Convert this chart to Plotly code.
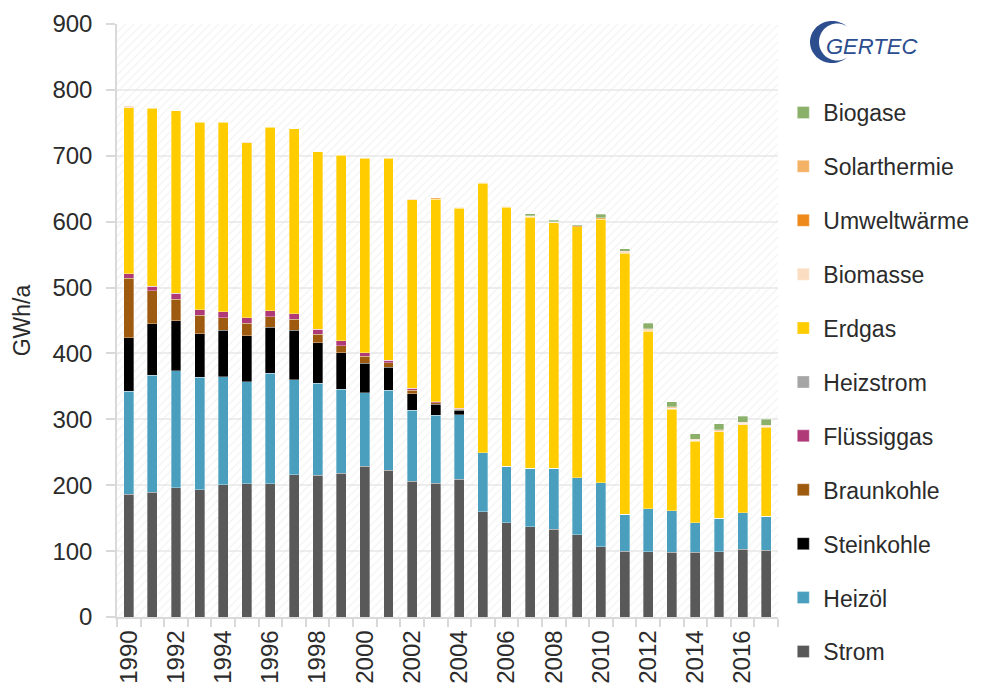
import numpy as np
import plotly.graph_objects as go

years = list(range(1990, 2018))

strom = [186, 189, 196, 193, 201, 202, 202, 216, 215, 218, 229, 223, 206, 203, 209, 160, 143, 137, 133, 125, 107, 100, 99, 98, 98, 99, 103, 101]
heizoel = [157, 178, 178, 171, 164, 155, 168, 144, 140, 128, 111, 121, 108, 103, 98, 89, 86, 89, 93, 86, 97, 56, 65, 63, 45, 51, 55, 52]
steinkohle = [81, 78, 76, 66, 70, 70, 70, 75, 61, 55, 45, 35, 25, 17, 7, 0, 0, 0, 0, 0, 0, 0, 0, 0, 0, 0, 0, 0]
braunkohle = [90, 50, 32, 28, 19, 19, 16, 17, 13, 11, 11, 7, 5, 2, 1, 0, 0, 0, 0, 0, 0, 0, 0, 0, 0, 0, 0, 0]
fluessiggas = [7, 7, 9, 8, 9, 8, 9, 8, 8, 7, 5, 4, 3, 2, 2, 0, 0, 0, 0, 0, 0, 0, 0, 0, 0, 0, 0, 0]
heizstrom = [0] * 28
erdgas = [252, 270, 277, 285, 288, 266, 278, 281, 269, 282, 295, 306, 286, 307, 303, 409, 393, 381, 372, 381, 400, 396, 270, 154, 124, 131, 134, 135]
biomasse = [4, 2, 1, 1, 1, 1, 1, 1, 1, 1, 1.5, 2, 2, 1, 2, 1, 1, 1, 1, 0.5, 0.5, 2, 2, 2, 1.5, 1.5, 2, 1.5]
umweltwaerme = [0, 0, 0, 0, 0, 0, 0, 0, 0, 0, 0, 0, 0, 1, 1, 1, 0.5, 1, 1, 1, 1.5, 0.5, 0.5, 1, 1, 0.5, 0.5, 1]
solarthermie = [0, 0, 0, 0, 0, 0, 0, 0, 0, 0, 0, 0, 0, 0, 0, 0, 0, 0, 0, 0, 0, 0.5, 1, 1, 0.5, 1, 1, 0.5]
biogase = [0, 0, 0, 0, 0, 0, 0, 0, 0, 0, 0, 0, 0, 0, 0, 0, 0, 3, 2, 1.5, 5, 4, 8, 8, 8, 9, 9, 9]

series = [
    ("Strom", strom, "#595959"),
    ("Heizöl", heizoel, "#4B9FBE"),
    ("Steinkohle", steinkohle, "#000000"),
    ("Braunkohle", braunkohle, "#9E5A0E"),
    ("Flüssiggas", fluessiggas, "#B03A78"),
    ("Heizstrom", heizstrom, "#A5A5A5"),
    ("Erdgas", erdgas, "#FFCC00"),
    ("Biomasse", biomasse, "#FBDDC2"),
    ("Umweltwärme", umweltwaerme, "#EE8A1C"),
    ("Solarthermie", solarthermie, "#F4B266"),
    ("Biogase", biogase, "#8BB06A"),
]

FONT = "Liberation Sans, Arial, sans-serif"
TXT = "#2B2B2B"
LOGO = "#2C4D8E"

fig = go.Figure()

# hatched plot background
fig.add_trace(go.Scatter(
    x=[1989.5, 2017.5, 2017.5, 1989.5, 1989.5], y=[0, 0, 900, 900, 0],
    fill="toself", mode="none", fillcolor="rgba(0,0,0,0)",
    fillpattern=dict(shape="/", fgcolor="#E2E2E2", bgcolor="rgba(0,0,0,0)", size=6, solidity=0.18),
    showlegend=False, hoverinfo="skip", xaxis="x", yaxis="y"))

n = len(series)
for i, (name, vals, col) in enumerate(series):
    fig.add_trace(go.Bar(
        x=years, y=vals, name=name, legendgroup=name, legendrank=n - i,
        marker=dict(color=col, line=dict(color="rgba(255,255,255,0.55)", width=0.6)),
        width=0.42, xaxis="x2", yaxis="y2"))

# logo: crescent "C" + text
def to_paper(px, py):
    return (px - 117) / 661, (617 - py) / 593

ang = np.linspace(np.radians(50), np.radians(310), 70)
outer = [to_paper(832 + 22 * np.cos(a), 42 - 21 * np.sin(a)) for a in ang]
inner = [to_paper(837 + 18 * np.cos(a), 42 - 18.5 * np.sin(a)) for a in ang[::-1]]
path = "M " + " L ".join(f"{x:.4f},{y:.4f}" for x, y in outer + inner) + " Z"
tx, ty = to_paper(871, 46)

fig.update_layout(
    width=995, height=683,
    margin=dict(l=109, r=225, t=16, b=74),
    plot_bgcolor="white", paper_bgcolor="white",
    barmode="stack",
    font=dict(family=FONT, color=TXT),
    shapes=[dict(type="path", path=path, xref="paper", yref="paper",
                 fillcolor=LOGO, line=dict(width=0))],
    annotations=[dict(text="GERTEC", x=tx, y=ty, xref="paper", yref="paper",
                      xanchor="center", yanchor="middle", showarrow=False,
                      font=dict(size=22, color=LOGO, style="italic",
                                family="Liberation Sans Narrow, Liberation Sans, Arial"))],
    xaxis=dict(range=[1989.5, 2017.5], tick0=1990, dtick=2, tickangle=-90,
               ticks="outside", ticklen=0, ticklabelstandoff=2,
               tickfont=dict(size=24, color=TXT), automargin=False,
               showgrid=False, showline=True, linecolor="#D9D9D9", linewidth=1.5,
               minor=dict(ticks="outside", tick0=1989.5, dtick=1, ticklen=8,
                          tickcolor="#D9D9D9", tickwidth=1.5, showgrid=False),
               zeroline=False),
    yaxis=dict(range=[0, 900], dtick=100, ticks="outside", ticklen=9,
               tickcolor="#D9D9D9", tickwidth=1.5, tickfont=dict(size=24, color=TXT),
               ticklabelstandoff=9,
               showgrid=True, gridcolor="#EDEDED", gridwidth=1.5,
               showline=True, linecolor="#D9D9D9", linewidth=1.5, zeroline=False,
               title=dict(text="GWh/a", font=dict(size=23, color=TXT), standoff=15),
               automargin=False),
    xaxis2=dict(matches="x", overlaying="x", visible=False),
    yaxis2=dict(matches="y", overlaying="y", visible=False),
    legend=dict(x=1.008, xanchor="left", y=0.887, yanchor="top",
                traceorder="grouped", tracegroupgap=21,
                font=dict(size=23, color=TXT), itemwidth=30),
    bargap=0.58,
)

fig.write_html("out.html")
